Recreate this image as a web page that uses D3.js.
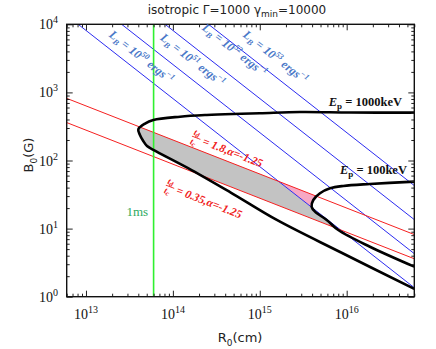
<!DOCTYPE html>
<html><head><meta charset="utf-8">
<script src="https://cdn.jsdelivr.net/npm/d3@7"></script>
<style>body{margin:0;background:#fff}svg{display:block}</style>
</head><body>
<svg id="c" width="436" height="349"></svg>
<script>
// ---------------- data ----------------
const xDomain = [6e12, 6e16];          // R0 (cm)
const yDomain = [1, 1e4];              // B0 (G)
const xMajor = [1e13, 1e14, 1e15, 1e16];
const xMajorExp = ["13", "14", "15", "16"];
const yMajor = [1, 10, 100, 1000, 1e4];
const yMajorExp = ["0", "1", "2", "3", "4"];

// Ep = 1000 keV contour
const ep1000R = [6.0e16, 1.09e16, 2.9e15, 1.0e15, 4.92e14, 2.45e14, 1.21e14, 5.96e13, 4.78e13, 4.0e13,
                 4.18e13, 4.56e13, 5.04e13, 5.96e13, 1.64e14, 4.54e14, 1.57e15, 8.4e15, 6.0e16];
const ep1000B = [504, 507, 515, 493, 482, 466, 440, 394, 349, 287,
                 237, 193, 163, 143, 72.4, 34.4, 13.4, 4.53, 1.30];
// Ep = 100 keV contour
const ep100R = [6.0e16, 1.85e16, 9.14e15, 6.43e15, 4.93e15, 4.13e15, 3.95e15, 4.32e15, 5.89e15, 8.0e15, 1.85e16, 6.0e16];
const ep100B = [48.9, 45.2, 42.3, 39.0, 33.0, 26.3, 21.0, 17.7, 13.4, 9.53, 5.42, 2.76];

// magnetic luminosity lines  B = lbNorm * sqrt(L_B/1e50) / R
const lbExp = [50, 51, 52, 53];
const lbNorm = 8.13e16;
const lbLabelR = [4.07e13, 1.58e14, 4.79e14, 1.42e15];
const lbLabelB = [2990, 2700, 3790, 2990];

// td/tc lines  B = tdNorm * sqrt(td/tc) / sqrt(R)
const tdtc = [1.8, 0.35];
const tdNorm = 1.493e9;
const alphaVal = "-1.25";
const tdLabelR = [1.66e14, 8.3e13];
const tdLabelB = [228, 43.5];

// 1 ms line
const oneMsR = 6e13;
const epLabels = ["1000keV", "100keV"];
const epLabelR = [4.33e16, 4.94e16];
const epLabelB = [631, 63.4];

// ---------------- drawing ----------------
const svg = d3.select("#c");
const L = 66.7, R = 414.3, T = 24.3, B = 296.7;
const x = d3.scaleLog().domain(xDomain).range([L, R]);
const y = d3.scaleLog().domain(yDomain).range([B, T]);
const defs = svg.append("defs");

const line = d3.line().x(d => x(d[0])).y(d => y(d[1]));
const curve = d3.line().x(d => x(d[0])).y(d => y(d[1])).curve(d3.curveCatmullRom.alpha(0.5));
const ep1000 = ep1000R.map((r, i) => [r, ep1000B[i]]);
const ep100 = ep100R.map((r, i) => [r, ep100B[i]]);
const lbLine = e => xDomain.map(r => [r, lbNorm * Math.sqrt(Math.pow(10, e - 50)) / r]);
const tdLine = t => xDomain.map(r => [r, tdNorm * Math.sqrt(t) / Math.sqrt(r)]);

defs.append("clipPath").attr("id", "plot").append("rect")
  .attr("x", L).attr("y", T).attr("width", R - L).attr("height", B - T);
const up = tdLine(tdtc[0]), lo = tdLine(tdtc[1]);
defs.append("clipPath").attr("id", "band").append("path")
  .attr("d", line(up.concat(lo.slice().reverse())) + "Z");
defs.append("clipPath").attr("id", "in1000").append("path")
  .attr("d", curve(ep1000) + "Z");
const l50 = lbLine(lbExp[0]);

const fills = svg.append("g").attr("clip-path", "url(#plot)")
  .append("g").attr("clip-path", "url(#band)")
  .append("g").attr("clip-path", "url(#in1000)");
fills.append("path").attr("fill", "#c3c3c3")
  .attr("d", line(l50.concat([[xDomain[1], 1e-3], [xDomain[0], 1e-3]])) + "Z");
fills.append("path").attr("fill", "#f7a8c4")
  .attr("d", line(l50.concat([[xDomain[1], 1e8], [xDomain[0], 1e8]])) + "Z");
svg.append("g").attr("clip-path", "url(#plot)").append("path")
  .attr("fill", "#fff").attr("d", curve(ep100) + "Z");

const lines = svg.append("g").attr("clip-path", "url(#plot)");
lbExp.forEach(e => lines.append("path").attr("d", line(lbLine(e)))
  .attr("fill", "none").attr("stroke", "#2b2bf0").attr("stroke-width", 1));
tdtc.forEach(t => lines.append("path").attr("d", line(tdLine(t)))
  .attr("fill", "none").attr("stroke", "#f52020").attr("stroke-width", 1));
lines.append("path").attr("d", line([[oneMsR, yDomain[0]], [oneMsR, yDomain[1]]]))
  .attr("fill", "none").attr("stroke", "#30f030").attr("stroke-width", 1.6);
[ep1000, ep100].forEach(c => lines.append("path").attr("d", curve(c))
  .attr("fill", "none").attr("stroke", "#000").attr("stroke-width", 2.6).attr("stroke-linejoin", "round"));

// ---------------- axes ----------------
const ax = svg.append("g").attr("color", "#222");
function ticks(axisFn, scale, tx, ty, major) {
  const minor = scale.ticks().filter(v => !major.some(m => Math.abs(m - v) / m < 1e-6));
  ax.append("g").attr("transform", `translate(${tx},${ty})`)
    .call(axisFn(scale).tickValues(major).tickSize(-6).tickFormat(""))
    .call(g => g.select(".domain").remove());
  ax.append("g").attr("transform", `translate(${tx},${ty})`)
    .call(axisFn(scale).tickValues(minor).tickSize(-3).tickFormat(""))
    .call(g => g.select(".domain").remove());
}
ticks(d3.axisBottom, x, 0, B, xMajor);
ticks(d3.axisTop, x, 0, T, xMajor);
ticks(d3.axisLeft, y, L, 0, yMajor);
ticks(d3.axisRight, y, R, 0, yMajor);
ax.selectAll(".tick line").attr("stroke-width", 1);
svg.append("rect").attr("x", L).attr("y", T).attr("width", R - L).attr("height", B - T)
  .attr("fill", "none").attr("stroke", "#111").attr("stroke-width", 1.4);

const serif = "'Liberation Serif', 'DejaVu Serif', serif";
const sans = "'DejaVu Sans', sans-serif";
xMajor.forEach((v, i) => {
  const t = svg.append("text").attr("x", x(v)).attr("y", 319).attr("text-anchor", "middle")
    .attr("font-family", serif).attr("font-size", 14).attr("fill", "#111");
  t.append("tspan").text("10");
  t.append("tspan").attr("dy", -6).attr("font-size", 10).text(xMajorExp[i]);
});
yMajor.forEach((v, i) => {
  const t = svg.append("text").attr("x", 58).attr("y", y(v) + 5).attr("text-anchor", "end")
    .attr("font-family", serif).attr("font-size", 14).attr("fill", "#111");
  t.append("tspan").text("10");
  t.append("tspan").attr("dy", -6).attr("font-size", 10).text(yMajorExp[i]);
});

// title
const tt = svg.append("text").attr("x", 237).attr("y", 14).attr("text-anchor", "middle")
  .attr("font-family", sans).attr("font-size", 12).attr("fill", "#222");
tt.append("tspan").text("isotropic Γ=1000 γ");
tt.append("tspan").attr("dy", 3).attr("font-size", 9).text("min");
tt.append("tspan").attr("dy", -3).text("=10000");

// axis titles
const xt = svg.append("text").attr("x", 240).attr("y", 342).attr("text-anchor", "middle")
  .attr("font-family", sans).attr("font-size", 13).attr("fill", "#222");
xt.append("tspan").text("R");
xt.append("tspan").attr("dy", 4).attr("font-size", 9).text("0");
xt.append("tspan").attr("dy", -4).text("(cm)");
const yt = svg.append("text").attr("transform", "translate(33,155) rotate(-90)").attr("text-anchor", "middle")
  .attr("font-family", sans).attr("font-size", 13).attr("fill", "#222");
yt.append("tspan").text("B");
yt.append("tspan").attr("dy", 4).attr("font-size", 9).text("0");
yt.append("tspan").attr("dy", -4).text("(G)");

// L_B labels
const angB = Math.atan((y(1) - y(10)) / (x(1e14) - x(1e13))) * 180 / Math.PI;
lbExp.forEach((e, i) => {
  const t = svg.append("text")
    .attr("transform", `translate(${x(lbLabelR[i])},${y(lbLabelB[i])}) rotate(${angB})`)
    .attr("text-anchor", "middle").attr("font-family", serif).attr("font-size", 12)
    .attr("font-weight", "bold").attr("font-style", "italic").attr("fill", "#4a78c8");
  t.append("tspan").text("L");
  t.append("tspan").attr("dy", 3).attr("font-size", 8).text("B");
  t.append("tspan").attr("dy", -3).text(" = 10");
  t.append("tspan").attr("dy", -5).attr("font-size", 8).text(e);
  t.append("tspan").attr("dy", 5).text(" ergs");
  t.append("tspan").attr("dy", -5).attr("font-size", 8).text("−1");
});

// td/tc labels
const angR = Math.atan(0.5 * (y(1) - y(10)) / (x(1e14) - x(1e13))) * 180 / Math.PI;
tdtc.forEach((v, i) => {
  const g = svg.append("g")
    .attr("transform", `translate(${x(tdLabelR[i])},${y(tdLabelB[i])}) rotate(${angR})`)
    .attr("font-family", serif).attr("font-weight", "bold").attr("font-style", "italic")
    .attr("fill", "#f02020").attr("font-size", 11.5);
  const a = g.append("text").attr("x", 0.5).attr("y", -2);
  a.append("tspan").attr("font-size", 9).text("t");
  a.append("tspan").attr("dy", 1.5).attr("font-size", 7).text("d");
  g.append("line").attr("x1", 0).attr("x2", 9).attr("y1", 0).attr("y2", 0)
    .attr("stroke", "#f02020").attr("stroke-width", 0.9);
  const b = g.append("text").attr("x", 0.5).attr("y", 8);
  b.append("tspan").attr("font-size", 9).text("t");
  b.append("tspan").attr("dy", 1.5).attr("font-size", 7).text("c");
  g.append("text").attr("x", 12).attr("y", 4).text(`= ${v},α=${alphaVal}`);
});

// Ep labels
epLabels.forEach((s, i) => {
  const t = svg.append("text").attr("x", x(epLabelR[i])).attr("y", y(epLabelB[i]))
    .attr("text-anchor", "end").attr("font-family", serif).attr("font-weight", "bold")
    .attr("font-size", 12.5).attr("fill", "#111");
  t.append("tspan").attr("font-style", "italic").text("E");
  t.append("tspan").attr("dy", 3).attr("font-size", 9).text("p");
  t.append("tspan").attr("dy", -3).text(" = " + s);
});

// 1ms label
svg.append("text").attr("x", x(5.18e13)).attr("y", y(15.3)).attr("text-anchor", "end")
  .attr("font-family", serif).attr("font-size", 13).attr("fill", "#2eaa60").text("1ms");
</script>
</body></html>
